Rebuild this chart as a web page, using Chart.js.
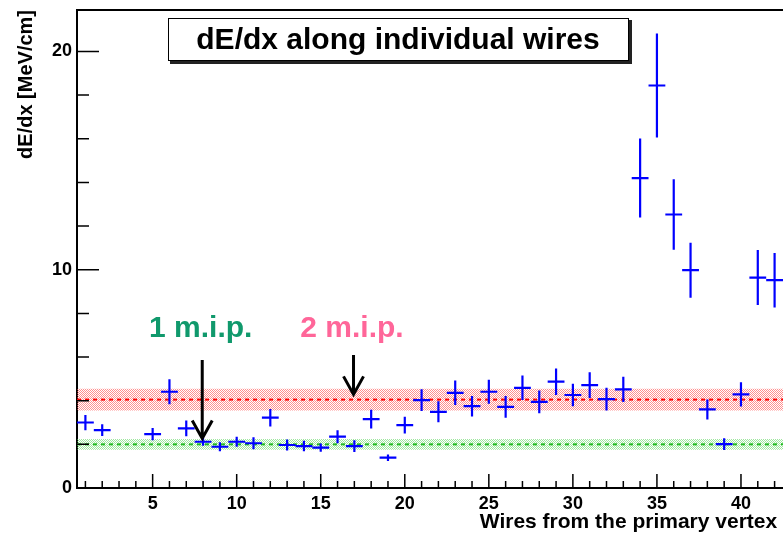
<!DOCTYPE html>
<html>
<head>
<meta charset="utf-8">
<script src="https://cdn.jsdelivr.net/npm/chart.js@4.4.1/dist/chart.umd.min.js"></script>
<style>
  html, body { margin: 0; padding: 0; background: #fff; }
  #wrap { width: 783px; height: 535px; }
</style>
</head>
<body>
<div id="wrap"><canvas id="chart" width="783" height="535"></canvas></div>
<script>
// wires with a measurement (3 and 4 are empty)
const wires = [1, 2, 5, 6, 7, 8, 9, 10, 11, 12, 13, 14, 15, 16, 17, 18, 19, 20, 21, 22, 23, 24,
  25, 26, 27, 28, 29, 30, 31, 32, 33, 34, 35, 36, 37, 38, 39, 40, 41, 42];
const dEdx = [3.00, 2.65, 2.47, 4.41, 2.73, 2.12, 1.89, 2.12, 2.05, 3.22, 1.97, 1.92, 1.85, 2.35,
  1.92, 3.16, 1.39, 2.88, 4.03, 3.49, 4.36, 3.75, 4.41, 3.72, 4.59, 3.95, 4.87, 4.26, 4.71, 4.07,
  4.52, 14.20, 18.44, 12.53, 9.98, 3.60, 2.01, 4.29, 9.64, 9.52];
const dEdxErr = [0.35, 0.27, 0.28, 0.57, 0.36, 0.18, 0.21, 0.23, 0.27, 0.40, 0.25, 0.24, 0.19, 0.30,
  0.27, 0.43, 0.15, 0.38, 0.50, 0.48, 0.56, 0.47, 0.55, 0.50, 0.56, 0.52, 0.61, 0.52, 0.59, 0.52,
  0.58, 1.81, 2.38, 1.62, 1.26, 0.46, 0.27, 0.56, 1.26, 1.25];
const binHalfWidth = 0.5;

// m.i.p. reference levels and their bands
const mip1 = 2.0, mip1Band = 0.25;
const mip2 = 4.05, mip2Band = 0.5;

const xRange = [0.5, 42.5];
const yRange = [0, 21.9];
const xLabelTicks = [5, 10, 15, 20, 25, 30, 35, 40];
const yLabelTicks = [0, 10, 20];

// labels + arrows in data coordinates
const notes = [
  { text: '1 m.i.p.', x: 7.86, y: 6.91, color: '#10996c', arrowX: 7.95, arrowFrom: 5.86, arrowTo: 2.27 },
  { text: '2 m.i.p.', x: 16.86, y: 6.91, color: '#ff6699', arrowX: 16.95, arrowFrom: 6.09, arrowTo: 4.29 }
];

const FONT = '"Liberation Sans", Arial, Helvetica, sans-serif';

function dots(color) {
  const c = document.createElement('canvas');
  c.width = 2; c.height = 2;
  const g = c.getContext('2d');
  g.fillStyle = color;
  g.fillRect(0, 0, 1, 1);
  g.fillRect(1, 1, 1, 1);
  return g.createPattern(c, 'repeat');
}

// error bar crosses as one broken line
const crosses = [];
wires.forEach((w, i) => {
  const v = dEdx[i], e = dEdxErr[i];
  crosses.push({ x: w - binHalfWidth, y: v }, { x: w + binHalfWidth, y: v }, { x: w, y: null });
  crosses.push({ x: w, y: v - e }, { x: w, y: v + e }, { x: w, y: null });
});

const flat = (y) => [{ x: xRange[0], y: y }, { x: xRange[1], y: y }];

const decor = {
  id: 'decor',
  afterDatasetsDraw(chart) {
    const { ctx, chartArea: a, scales: { x, y } } = chart;
    ctx.save();
    // inner ticks
    ctx.strokeStyle = '#000';
    ctx.lineWidth = 1.5;
    ctx.beginPath();
    x.ticks.forEach(t => {
      const px = x.getPixelForValue(t.value);
      const len = t.value % 5 === 0 ? 14 : 7;
      ctx.moveTo(px, a.bottom);
      ctx.lineTo(px, a.bottom - len);
    });
    y.ticks.forEach(t => {
      const py = y.getPixelForValue(t.value);
      const len = t.value % 10 === 0 ? 22 : 12;
      ctx.moveTo(a.left, py);
      ctx.lineTo(a.left + len, py);
    });
    ctx.stroke();
    // top of frame
    ctx.lineWidth = 2;
    ctx.beginPath();
    ctx.moveTo(a.left, a.top);
    ctx.lineTo(a.right, a.top);
    ctx.stroke();

    // arrows and labels
    notes.forEach(n => {
      const px = x.getPixelForValue(n.arrowX);
      const y0 = y.getPixelForValue(n.arrowFrom);
      const y1 = y.getPixelForValue(n.arrowTo);
      ctx.strokeStyle = '#000';
      ctx.lineWidth = 3;
      ctx.beginPath();
      ctx.moveTo(px, y0);
      ctx.lineTo(px, y1);
      ctx.moveTo(px - 10, y1 - 18);
      ctx.lineTo(px, y1);
      ctx.lineTo(px + 10, y1 - 18);
      ctx.stroke();
      ctx.fillStyle = n.color;
      ctx.font = 'bold 30px ' + FONT;
      ctx.textAlign = 'center';
      ctx.textBaseline = 'alphabetic';
      ctx.fillText(n.text, x.getPixelForValue(n.x), y.getPixelForValue(n.y));
    });

    // title box with shadow
    ctx.fillStyle = '#222';
    ctx.fillRect(170, 20, 462, 44);
    ctx.fillStyle = '#fff';
    ctx.fillRect(168, 18, 460, 42);
    ctx.strokeStyle = '#000';
    ctx.lineWidth = 1;
    ctx.strokeRect(168.5, 18.5, 460, 42);
    ctx.fillStyle = '#000';
    ctx.font = 'bold 30px ' + FONT;
    ctx.textAlign = 'center';
    ctx.fillText('dE/dx along individual wires', 398, 49);
    ctx.restore();
  }
};

new Chart(document.getElementById('chart').getContext('2d'), {
  type: 'scatter',
  data: {
    datasets: [
      {
        label: 'dE/dx',
        data: crosses,
        showLine: true, spanGaps: false,
        borderColor: '#0000ff', borderWidth: 2.2,
        pointRadius: 0, fill: false
      },
      {
        label: '2 m.i.p.',
        data: flat(mip2),
        showLine: true, borderColor: '#ff0000', borderWidth: 2,
        borderDash: [4, 4], pointRadius: 0, fill: false
      },
      {
        label: '1 m.i.p.',
        data: flat(mip1),
        showLine: true, borderColor: '#22bb22', borderWidth: 2,
        borderDash: [4, 4], pointRadius: 0, fill: false
      },
      {
        label: 'band2 lo', data: flat(mip2 - mip2Band),
        showLine: true, borderWidth: 0, borderColor: 'rgba(0,0,0,0)', pointRadius: 0, fill: false
      },
      {
        label: 'band2 hi', data: flat(mip2 + mip2Band),
        showLine: true, borderWidth: 0, borderColor: 'rgba(0,0,0,0)', pointRadius: 0,
        fill: '-1', backgroundColor: dots('rgba(255,70,70,0.6)')
      },
      {
        label: 'band1 lo', data: flat(mip1 - mip1Band),
        showLine: true, borderWidth: 0, borderColor: 'rgba(0,0,0,0)', pointRadius: 0, fill: false
      },
      {
        label: 'band1 hi', data: flat(mip1 + mip1Band),
        showLine: true, borderWidth: 0, borderColor: 'rgba(0,0,0,0)', pointRadius: 0,
        fill: '-1', backgroundColor: dots('rgba(80,210,80,0.55)')
      }
    ]
  },
  options: {
    responsive: false,
    animation: false,
    devicePixelRatio: 1,
    layout: { padding: { top: 10, right: 0, left: 0, bottom: 0 } },
    plugins: { legend: { display: false }, tooltip: { enabled: false } },
    scales: {
      x: {
        type: 'linear', min: xRange[0], max: xRange[1],
        grid: { display: false, drawTicks: false },
        border: { display: true, color: '#000', width: 2 },
        afterBuildTicks: s => {
          const t = [];
          for (let v = Math.ceil(xRange[0]); v <= Math.floor(xRange[1]); v++) t.push({ value: v });
          s.ticks = t;
        },
        ticks: {
          autoSkip: false, maxRotation: 0,
          padding: 5, color: '#000',
          font: { family: FONT, size: 18, weight: 'bold' },
          callback: v => xLabelTicks.includes(v) ? String(v) : ''
        },
        title: {
          display: true, text: 'Wires from the primary vertex\u00a0', align: 'end', color: '#000',
          font: { family: FONT, size: 21, weight: 'bold' }, padding: 0
        },
        afterFit: s => { s.height = 47; s.paddingLeft = 0; s.paddingRight = 0; }
      },
      y: {
        min: yRange[0], max: yRange[1],
        grid: { display: false, drawTicks: false },
        border: { display: true, color: '#000', width: 2 },
        ticks: {
          stepSize: 2, includeBounds: false, padding: 5, color: '#000',
          font: { family: FONT, size: 18, weight: 'bold', lineHeight: 1 },
          callback: v => yLabelTicks.includes(v) ? String(v) : ''
        },
        title: {
          display: true, text: 'dE/dx [MeV/cm]', align: 'end', color: '#000',
          font: { family: FONT, size: 20, weight: 'bold' }, padding: { top: 14, bottom: 0 }
        },
        afterFit: s => { s.width = 77; s.paddingTop = 0; s.paddingBottom = 0; }
      }
    }
  },
  plugins: [decor]
});
</script>
</body>
</html>
